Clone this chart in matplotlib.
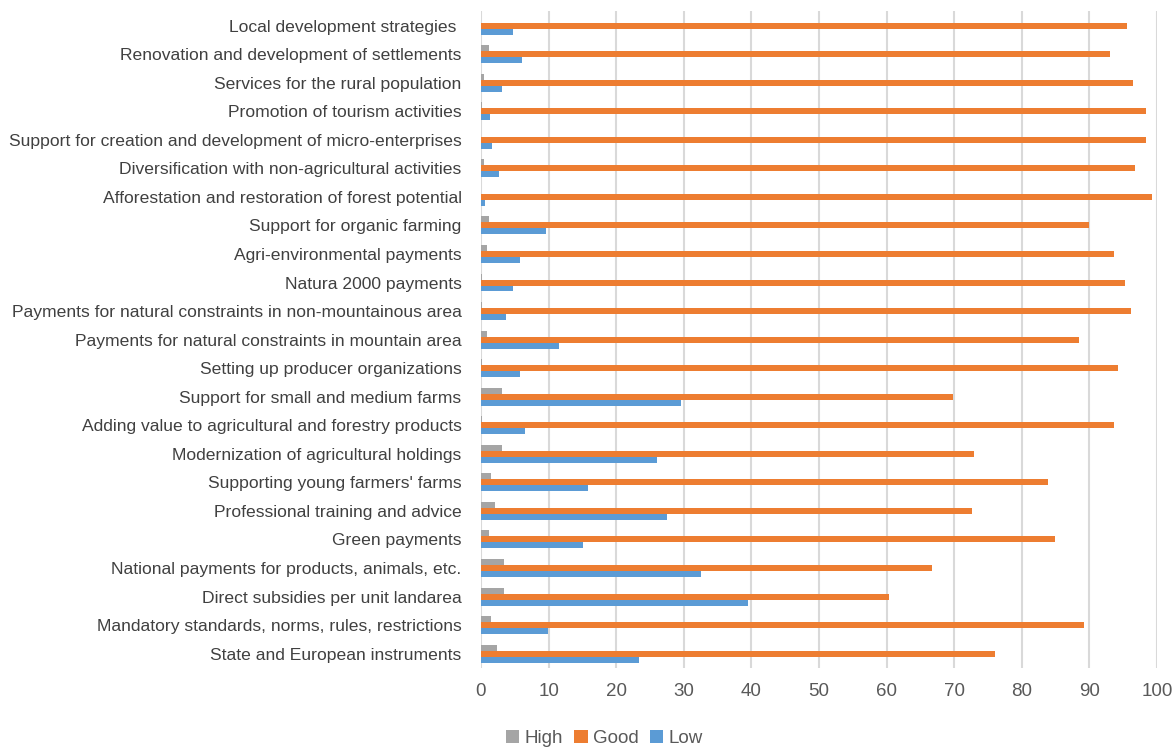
import numpy as np
import matplotlib.pyplot as plt

# categories from top to bottom
categories = [
    "Local development strategies ",
    "Renovation and development of settlements",
    "Services for the rural population",
    "Promotion of tourism activities",
    "Support for creation and development of micro-enterprises",
    "Diversification with non-agricultural activities",
    "Afforestation and restoration of forest potential",
    "Support for organic farming",
    "Agri-environmental payments",
    "Natura 2000 payments",
    "Payments for natural constraints in non-mountainous area",
    "Payments for natural constraints in mountain area",
    "Setting up producer organizations",
    "Support for small and medium farms",
    "Adding value to agricultural and forestry products",
    "Modernization of agricultural holdings",
    "Supporting young farmers' farms",
    "Professional training and advice",
    "Green payments",
    "National payments for products, animals, etc.",
    "Direct subsidies per unit landarea",
    "Mandatory standards, norms, rules, restrictions",
    "State and European instruments",
]

high = [0.0, 1.2, 0.5, 0.2, 0.0, 0.5, 0.0, 1.2, 0.9, 0.2, 0.2, 0.9,
        0.2, 3.1, 0.2, 3.1, 1.5, 2.1, 1.2, 3.4, 3.4, 1.5, 2.4]
good = [95.6, 93.1, 96.5, 98.4, 98.4, 96.8, 99.3, 89.9, 93.7, 95.3, 96.2, 88.4,
        94.3, 69.8, 93.7, 73.0, 83.9, 72.7, 84.9, 66.7, 60.4, 89.2, 76.1]
low = [4.7, 6.1, 3.1, 1.3, 1.7, 2.7, 0.6, 9.6, 5.8, 4.7, 3.7, 11.6,
       5.8, 29.6, 6.5, 26.1, 15.8, 27.5, 15.1, 32.6, 39.5, 9.9, 23.4]

c_high = '#a5a5a5'
c_good = '#ed7d31'
c_low = '#5b9bd5'

plt.rcParams['font.family'] = ['Liberation Sans', 'DejaVu Sans']

y = np.arange(len(categories))
h = 0.21

fig = plt.figure(figsize=(11.74, 7.53), dpi=100)
ax = fig.add_axes([0.4097, 0.113, 0.5758, 0.872])

ax.barh(y - h, high, height=h, color=c_high, label='High')
ax.barh(y, good, height=h, color=c_good, label='Good')
ax.barh(y + h, low, height=h, color=c_low, label='Low')

ax.set_ylim(len(categories) - 0.5, -0.5)
ax.set_xlim(0, 100)
ax.set_xticks(np.arange(0, 101, 10))
ax.set_yticks(y)
ax.set_yticklabels(categories, fontsize=12.6, color='#404040')
ax.tick_params(axis='y', length=0, pad=14)
ax.tick_params(axis='x', length=0, pad=11, labelsize=13.5, colors='#595959')

ax.grid(axis='x', color='#d9d9d9', linewidth=1.5)
ax.set_axisbelow(True)
for s in ax.spines.values():
    s.set_visible(False)

leg = fig.legend(loc='lower center', bbox_to_anchor=(0.515, -0.014), ncol=3,
                 frameon=False, handlelength=0.7, handleheight=0.7,
                 handletextpad=0.3, columnspacing=0.6, fontsize=13.5)
for t in leg.get_texts():
    t.set_color('#595959')

fig.savefig('out.png', dpi=100)
